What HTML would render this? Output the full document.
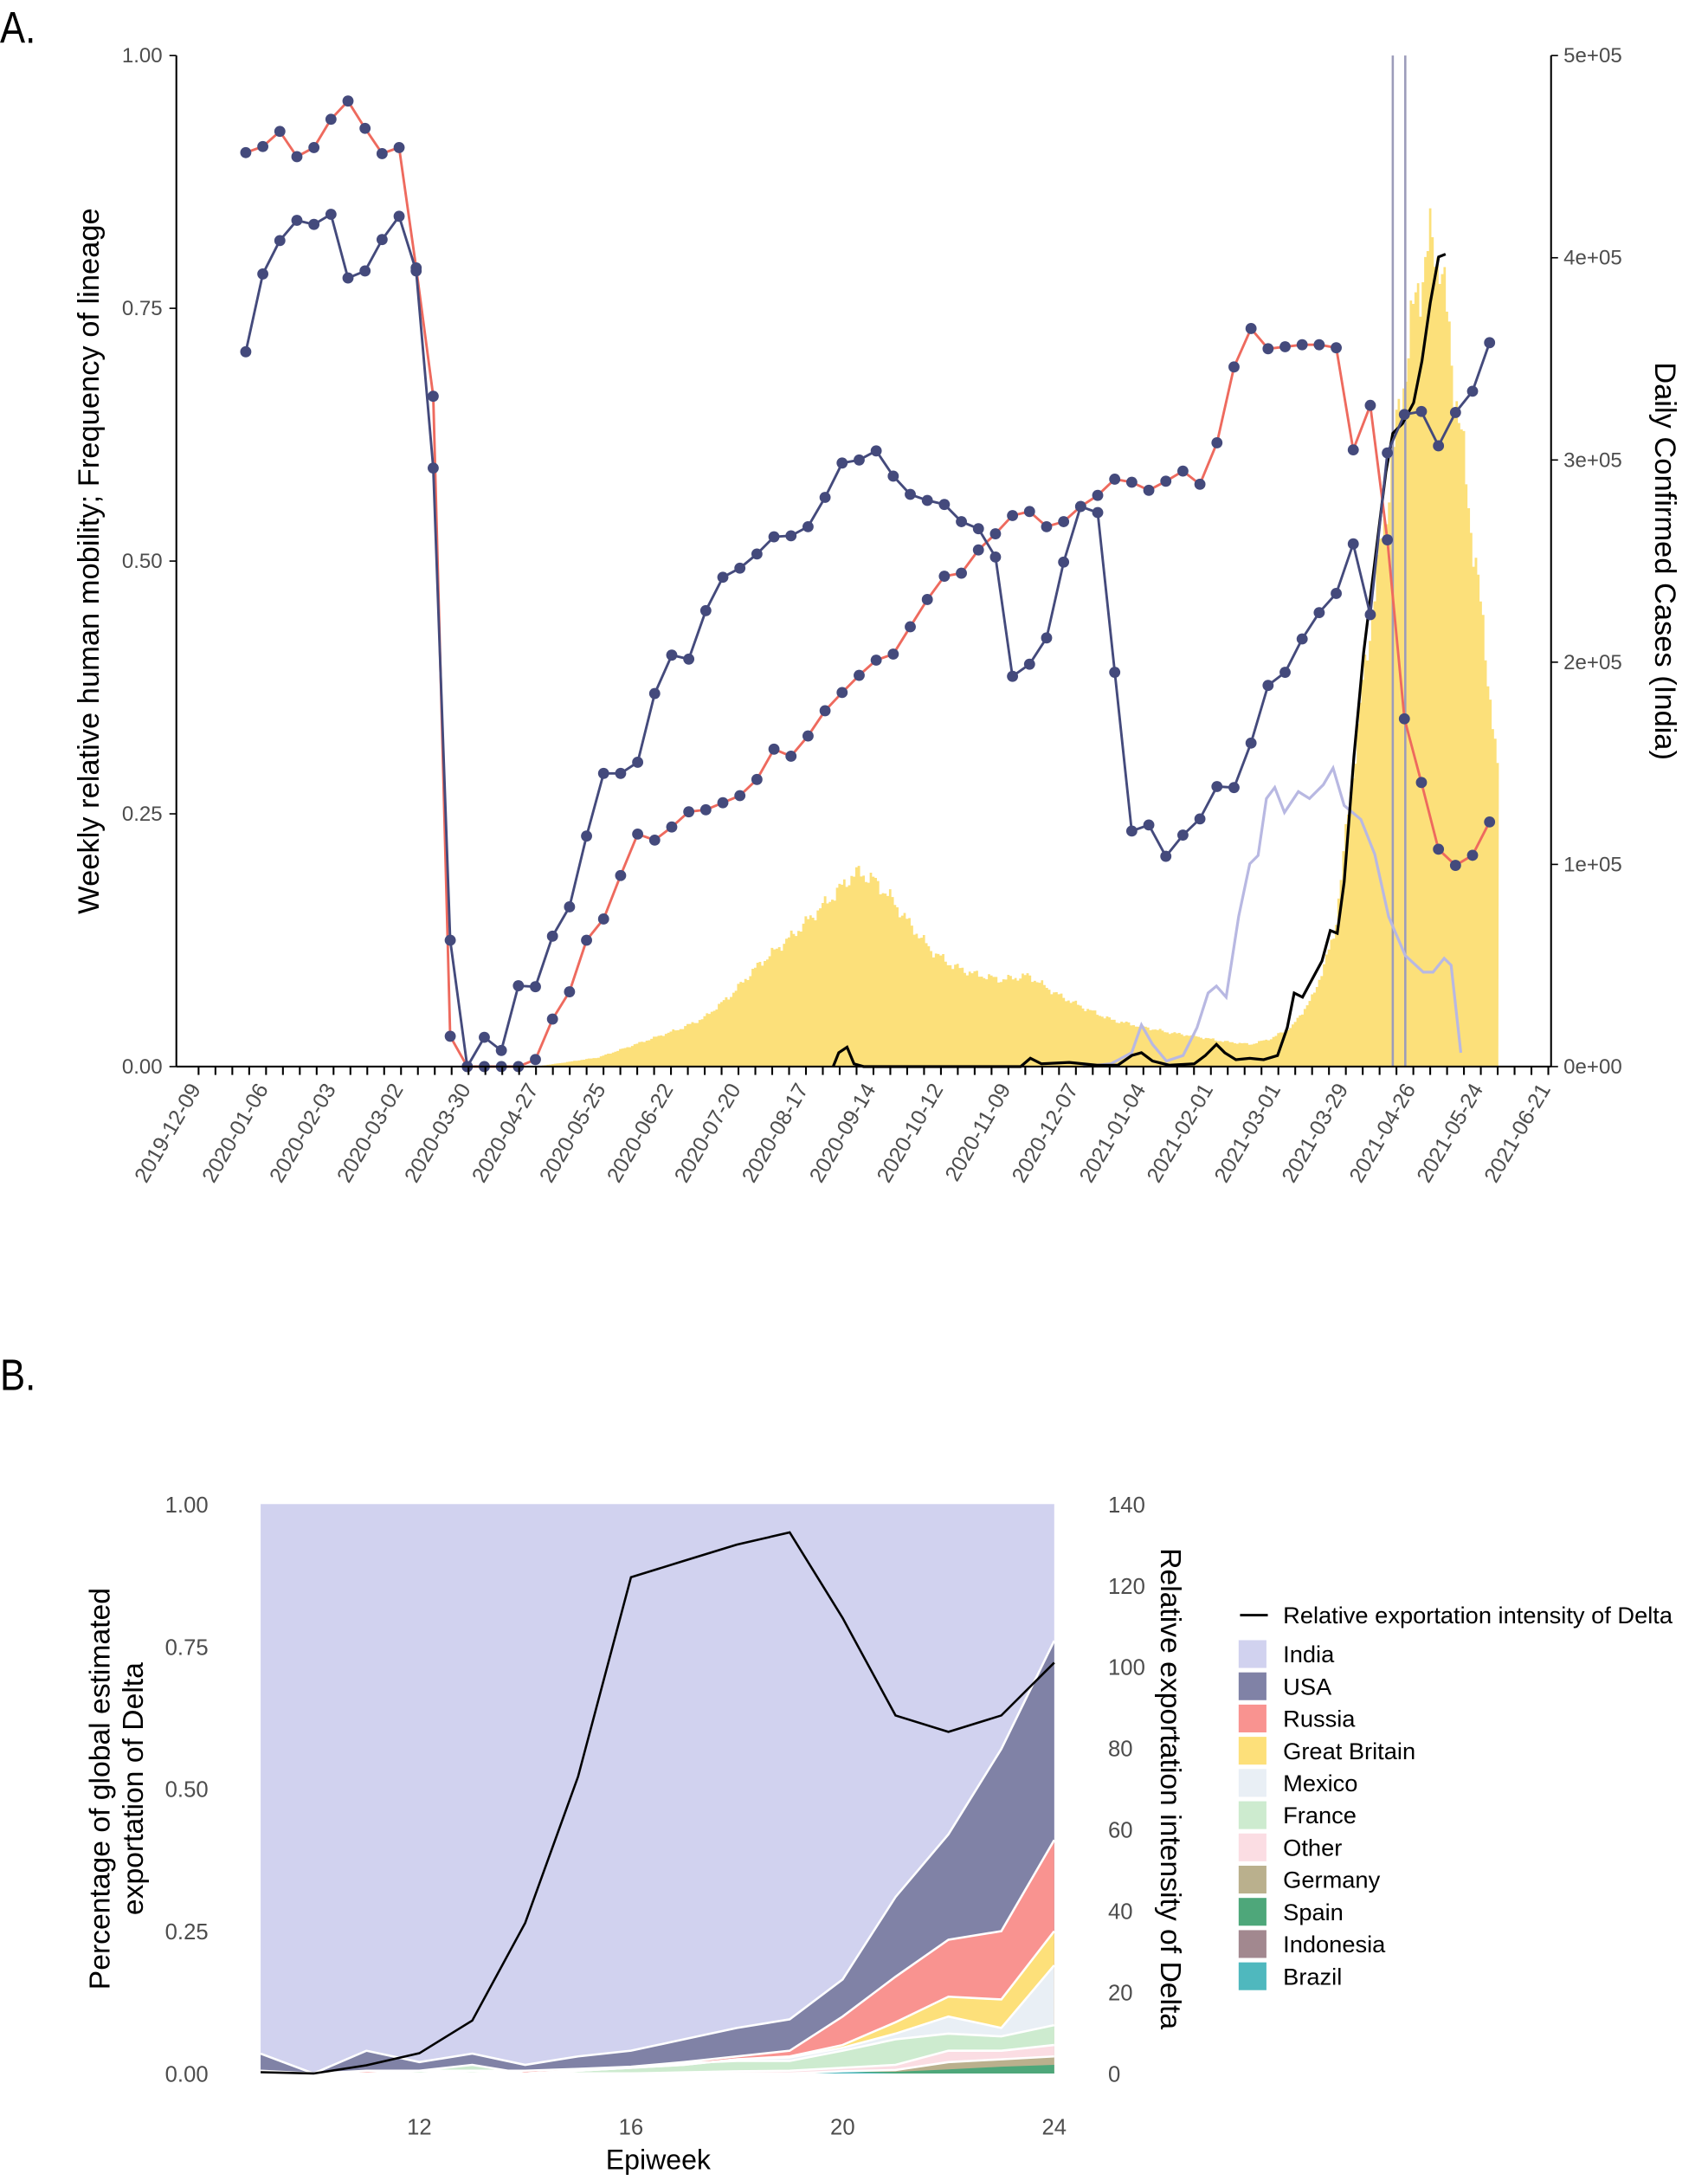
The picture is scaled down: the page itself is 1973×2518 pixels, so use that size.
<!DOCTYPE html>
<html><head><meta charset="utf-8"><style>
html,body{margin:0;padding:0;background:#fff;}
svg{display:block;}
text{font-family:"Liberation Sans",sans-serif;}
</style></head><body>
<svg id="s" width="1973" height="2518" viewBox="0 0 1230 1569.7" preserveAspectRatio="none" xmlns="http://www.w3.org/2000/svg">
<text x="0" y="31" font-size="32" fill="#000" transform="scale(0.85 1)">A.</text>
<text x="0" y="1001" font-size="32" fill="#000" transform="scale(0.85 1)">B.</text>
<g id="A"></g>
<g id="B"></g>
</svg>
<script>
var NS="http://www.w3.org/2000/svg";
function el(p,t,a,txt){var e=document.createElementNS(NS,t);for(var k in a)e.setAttribute(k,a[k]);if(txt!==undefined)e.textContent=txt;p.appendChild(e);return e;}
var A=document.getElementById('A'),B=document.getElementById('B');
function ya(v){return 768-728*v;}
var yp=[[385,0],[400,0.003],[430,0.009],[467,0.027],[490,0.038],[506,0.048],[525,0.07],[545,0.1],[570,0.13],[600,0.17],[612,0.188],[618,0.192],[628,0.185],[640,0.168],[655,0.14],[670,0.115],[685,0.1],[700,0.092],[720,0.086],[740,0.09],[760,0.072],[780,0.058],[800,0.046],[820,0.04],[840,0.034],[860,0.03],[880,0.025],[900,0.022],[915,0.028],[930,0.04],[945,0.07],[960,0.13],[970,0.25],[980,0.37],[990,0.48],[1000,0.58],[1010,0.68],[1020,0.77],[1030,0.815],[1036,0.805],[1042,0.73],[1050,0.64],[1060,0.52],[1070,0.4],[1079,0.27]];
function interp(x){for(var i=0;i<yp.length-1;i++){if(x>=yp[i][0]&&x<=yp[i+1][0]){var t=(x-yp[i][0])/(yp[i+1][0]-yp[i][0]);return yp[i][1]+t*(yp[i+1][1]-yp[i][1]);}}return 0;}
var d="M385,768";var n=0;
for(var x=385;x<=1079;x+=1.736){n++;var v=interp(x)*(1+0.03*Math.sin(n*0.9)+0.02*Math.sin(n*2.3));d+="L"+x.toFixed(1)+","+ya(v).toFixed(1)+"L"+(x+1.736).toFixed(1)+","+ya(v).toFixed(1);}
d+="L1079,768Z";
el(A,'path',{d:d,fill:'#fce07a'});
el(A,'line',{x1:1003,y1:40,x2:1003,y2:768,stroke:'#9c9cba','stroke-width':1.6});
el(A,'line',{x1:1012,y1:40,x2:1012,y2:768,stroke:'#9c9cba','stroke-width':1.6});
var lav=[[780,768],[800,766],[815,758],[822,738],[830,752],[840,764],[852,760],[862,740],[870,715],[876,710],[883,718],[892,660],[900,622],[906,616],[912,575],[918,567],[925,585],[935,570],[943,575],[953,565],[960,553],[968,580],[980,590],[990,615],[1000,660],[1012,688],[1025,700],[1032,700],[1040,690],[1045,695],[1052,758]];
el(A,'polyline',{points:lav.map(p=>p.join(',')).join(' '),fill:'none',stroke:'#b8b8e2','stroke-width':2});
var bl=[[600,768],[604,758],[610,754],[615,766],[622,768],[735,768],[742,762],[750,766],[770,765],[790,767],[805,767],[815,760],[822,758],[830,764],[842,767],[860,766],[868,760],[876,752],[882,758],[890,763],[900,762],[910,763],[920,760],[927,740],[932,715],[938,718],[945,705],[952,692],[958,670],[963,672],[968,635],[975,545],[982,470],[990,405],[998,340],[1003,312],[1010,305],[1018,290],[1024,260],[1030,218],[1036,185],[1041,183]];
el(A,'polyline',{points:bl.map(p=>p.join(',')).join(' '),fill:'none',stroke:'#000','stroke-width':2});
var S1=[0.904,0.91,0.925,0.9,0.909,0.937,0.955,0.928,0.903,0.909,0.79,0.663,0.03,0,0,0,0,0.007,0.047,0.074,0.125,0.146,0.189,0.23,0.224,0.237,0.252,0.254,0.261,0.268,0.284,0.314,0.307,0.327,0.352,0.37,0.387,0.402,0.408,0.435,0.462,0.485,0.488,0.511,0.527,0.545,0.549,0.534,0.539,0.554,0.565,0.581,0.578,0.57,0.579,0.589,0.576,0.617,0.692,0.73,0.71,0.712,0.714,0.714,0.711,0.61,0.654,0.521,0.344,0.281,0.215,0.199,0.209,0.242];
var S2=[0.707,0.784,0.817,0.837,0.833,0.843,0.78,0.787,0.818,0.841,0.787,0.592,0.125,0,0.029,0.016,0.08,0.079,0.129,0.158,0.228,0.29,0.29,0.301,0.369,0.407,0.403,0.451,0.484,0.493,0.507,0.524,0.525,0.534,0.563,0.597,0.6,0.609,0.584,0.566,0.56,0.556,0.539,0.532,0.504,0.386,0.398,0.424,0.499,0.554,0.548,0.39,0.233,0.239,0.208,0.229,0.245,0.277,0.276,0.32,0.377,0.39,0.423,0.449,0.468,0.517,0.447,0.607,0.645,0.648,0.614,0.647,0.668,0.716];
function xs(k){return 177+12.27*k;}
el(A,'polyline',{points:S1.map((v,k)=>xs(k).toFixed(1)+','+ya(v).toFixed(1)).join(' '),fill:'none',stroke:'#ee6a5e','stroke-width':1.8});
el(A,'polyline',{points:S2.map((v,k)=>xs(k).toFixed(1)+','+ya(v).toFixed(1)).join(' '),fill:'none',stroke:'#444a7c','stroke-width':1.8});
[S1,S2].forEach(S=>S.forEach((v,k)=>el(A,'circle',{cx:xs(k),cy:ya(v),r:4,fill:'#444a7c'})));
el(A,'line',{x1:127,y1:40,x2:127,y2:768,stroke:'#000','stroke-width':1.3});
el(A,'line',{x1:1117,y1:40,x2:1117,y2:768,stroke:'#000','stroke-width':1.3});
el(A,'line',{x1:127,y1:768,x2:1117,y2:768,stroke:'#000','stroke-width':1.3});
['0.00','0.25','0.50','0.75','1.00'].forEach((t,i)=>{var y=ya(i*0.25);el(A,'line',{x1:122,y1:y,x2:127,y2:y,stroke:'#000'});el(A,'text',{x:117,y:y+5,'font-size':15,'text-anchor':'end',fill:'#4d4d4d'},t);});
['0e+00','1e+05','2e+05','3e+05','4e+05','5e+05'].forEach((t,i)=>{var y=768-145.6*i;el(A,'line',{x1:1117,y1:y,x2:1122,y2:y,stroke:'#000'});el(A,'text',{x:1126,y:y+5,'font-size':15,fill:'#4d4d4d'},t);});
var labs=['2019-12-09','2020-01-06','2020-02-03','2020-03-02','2020-03-30','2020-04-27','2020-05-25','2020-06-22','2020-07-20','2020-08-17','2020-09-14','2020-10-12','2020-11-09','2020-12-07','2021-01-04','2021-02-01','2021-03-01','2021-03-29','2021-04-26','2021-05-24','2021-06-21'];
for(var w=0;w<=80;w++){var x=143+12.15*w;el(A,'line',{x1:x,y1:768,x2:x,y2:774,stroke:'#000','stroke-width':1.3});}
labs.forEach((t,i)=>{var x=143+48.6*i;el(A,'text',{x:x+2,y:784,'font-size':15.5,'text-anchor':'end',fill:'#4d4d4d',transform:'rotate(-60 '+(x+2)+' 784)'},t);});
el(A,'text',{x:0,y:0,'font-size':21.5,'text-anchor':'middle',fill:'#000',transform:'translate(71 404) rotate(-90)'},'Weekly relative human mobility; Frequency of lineage');
el(A,'text',{x:0,y:0,'font-size':21.5,'text-anchor':'middle',fill:'#000',transform:'translate(1192 404) rotate(90)'},'Daily Confirmed Cases (India)');
function xb(w){return 187.7+38.1*(w-9);}
function yb(v){return 1493-410*v;}
var cols={India:'#d1d2ef',USA:'#8082a6',Russia:'#f99390','Great Britain':'#fde07a',Mexico:'#e9eff5',France:'#cdebcf',Other:'#fbdde3',Germany:'#bab08d',Spain:'#4ea77a',Indonesia:'#a2888f',Brazil:'#4fb8be'};
var layers=[
['USA',[0.035,0.0,0.04,0.02,0.035,0.015,0.03,0.04,0.06,0.08,0.095,0.165,0.31,0.42,0.57,0.76]],
['Russia',[0.005,0,0.005,0.005,0.005,0.005,0.008,0.012,0.02,0.03,0.04,0.10,0.17,0.235,0.25,0.41]],
['Great Britain',[0,0,0,0,0.005,0,0.005,0.01,0.015,0.025,0.03,0.05,0.09,0.135,0.13,0.25]],
['Mexico',[0,0,0,0,0.005,0,0.005,0.01,0.015,0.025,0.028,0.045,0.07,0.1,0.08,0.19]],
['France',[0,0,0,0.005,0.015,0,0.005,0.01,0.018,0.022,0.022,0.04,0.06,0.07,0.065,0.085]],
['Other',[0,0,0,0,0,0,0,0,0.002,0.004,0.005,0.01,0.015,0.04,0.04,0.05]],
['Germany',[0,0,0,0,0,0,0,0,0,0,0,0.004,0.006,0.02,0.025,0.03]],
['Spain',[0,0,0,0,0,0,0,0,0,0,0,0.003,0.003,0.007,0.012,0.015]],
['Brazil',[0,0,0,0,0,0,0,0,0,0,0,0.003,0,0,0,0]]];
el(B,'rect',{x:xb(9),y:yb(1),width:xb(24)-xb(9),height:410,fill:cols.India});
layers.forEach(L=>{var pts=L[1].map((v,i)=>xb(9+i).toFixed(1)+','+yb(v).toFixed(1));pts.push(xb(24)+','+yb(0));pts.push(xb(9)+','+yb(0));el(B,'polygon',{points:pts.join(' '),fill:cols[L[0]]});});
layers.slice(0,7).forEach(L=>{el(B,'polyline',{points:L[1].map((v,i)=>xb(9+i).toFixed(1)+','+yb(v).toFixed(1)).join(' '),fill:'none',stroke:'#fff','stroke-width':1.6});});
var bk=[0.3,0,2,5,13,37,73,122,126,130,133,112,88,84,88,101];
el(B,'polyline',{points:bk.map((v,i)=>xb(9+i).toFixed(1)+','+(1493-2.929*v).toFixed(1)).join(' '),fill:'none',stroke:'#000','stroke-width':1.6});
['0.00','0.25','0.50','0.75','1.00'].forEach((t,i)=>{el(B,'text',{x:150,y:yb(i*0.25)+6,'font-size':16,'text-anchor':'end',fill:'#4d4d4d'},t);});
[0,20,40,60,80,100,120,140].forEach(v=>{el(B,'text',{x:798,y:1493-2.929*v+6,'font-size':16,fill:'#4d4d4d'},String(v));});
[12,16,20,24].forEach(w=>{el(B,'text',{x:xb(w),y:1537,'font-size':16,'text-anchor':'middle',fill:'#4d4d4d'},String(w));});
el(B,'text',{x:0,y:0,'font-size':20,'text-anchor':'middle',fill:'#000',transform:'translate(474 1562) scale(1 1)'},'Epiweek');
el(B,'text',{x:0,y:0,'font-size':21,'text-anchor':'middle',fill:'#000',transform:'translate(79 1288) rotate(-90)'},'Percentage of global estimated');
el(B,'text',{x:0,y:0,'font-size':21,'text-anchor':'middle',fill:'#000',transform:'translate(103 1288) rotate(-90)'},'exportation of Delta');
el(B,'text',{x:0,y:0,'font-size':21,'text-anchor':'middle',fill:'#000',transform:'translate(836 1288) rotate(90)'},'Relative exportation intensity of Delta');
el(B,'line',{x1:893,y1:1163,x2:913,y2:1163,stroke:'#000','stroke-width':1.8});
el(B,'text',{x:924,y:1169,'font-size':17,fill:'#000'},'Relative exportation intensity of Delta');
['India','USA','Russia','Great Britain','Mexico','France','Other','Germany','Spain','Indonesia','Brazil'].forEach((t,i)=>{var y=1191+23.2*i;el(B,'rect',{x:892,y:y-10,width:20,height:20,fill:cols[t]});el(B,'text',{x:924,y:y+6,'font-size':17,fill:'#000'},t);});
</script>
</body></html>
